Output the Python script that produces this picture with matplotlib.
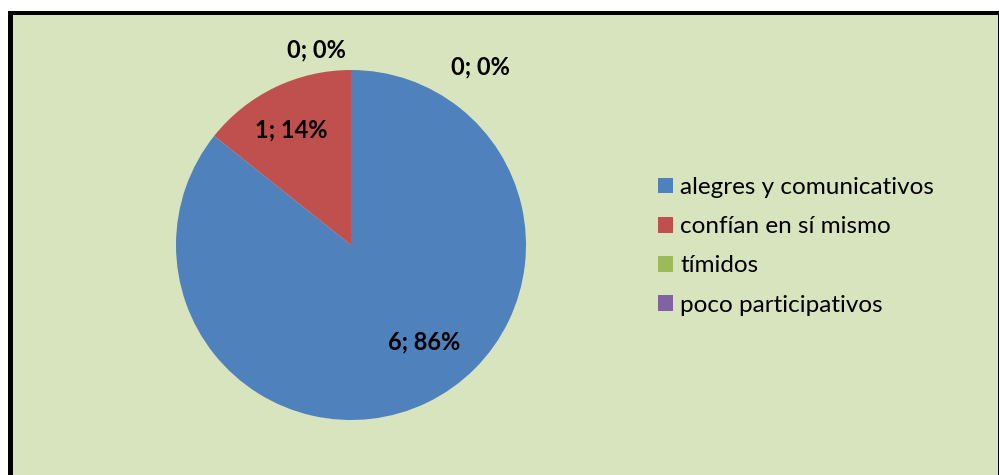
import matplotlib
matplotlib.use("Agg")
import matplotlib.pyplot as plt
from matplotlib.patches import Rectangle, Patch
import numpy as np

# data
categories = ["alegres y comunicativos", "confían en sí mismo", "tímidos", "poco participativos"]
counts = [6, 1, 0, 0]
colors = ["#4F81BD", "#C0504D", "#9BBB59", "#8064A2"]
# label positions (radius, angle in degrees) as Excel placed them
label_pos = [(0.69, -53), (0.74, 117.5), (1.26, 54), (1.13, 100)]

W, H = 999, 475
fig = plt.figure(figsize=(W / 100, H / 100), dpi=100, facecolor="white")

# chart area: black frame on top/left, green fill
fig.add_artist(Rectangle((8 / W, 0), 1.2, (H - 11) / H, transform=fig.transFigure,
                         facecolor="black", edgecolor="none", zorder=0))
fig.add_artist(Rectangle((13 / W, 0), (998 - 13) / W, (H - 15) / H, transform=fig.transFigure,
                         facecolor="#D7E4BD", edgecolor="none", zorder=0))

ax = fig.add_axes([176 / W, 55 / H, 350 / W, 350 / H])
ax.set_facecolor("none")
wedges, _ = ax.pie(counts, colors=colors, startangle=90, counterclock=False,
                   radius=1.0, wedgeprops=dict(linewidth=0))
ax.set_xlim(-1, 1)
ax.set_ylim(-1, 1)
ax.set_aspect("equal")
ax.axis("off")

total = sum(counts)
for c, (r, ang) in zip(counts, label_pos):
    pct = round(100 * c / total)
    ax.text(r * np.cos(np.radians(ang)), r * np.sin(np.radians(ang)), f"{c}; {pct}%",
            ha="center", va="center", fontsize=17, fontweight="bold",
            family="Lato", color="black", clip_on=False)

handles = [Patch(facecolor=col, edgecolor="none") for col in colors]
fig.legend(handles, categories, loc="upper left", bbox_to_anchor=(658 / W, 1 - 177 / H),
           frameon=False, prop=dict(family="Lato", size=17.5),
           handlelength=0.62, handleheight=0.62, handletextpad=0.3, labelspacing=0.75,
           borderpad=0, borderaxespad=0)

fig.savefig("out.png", dpi=100, facecolor="white")
